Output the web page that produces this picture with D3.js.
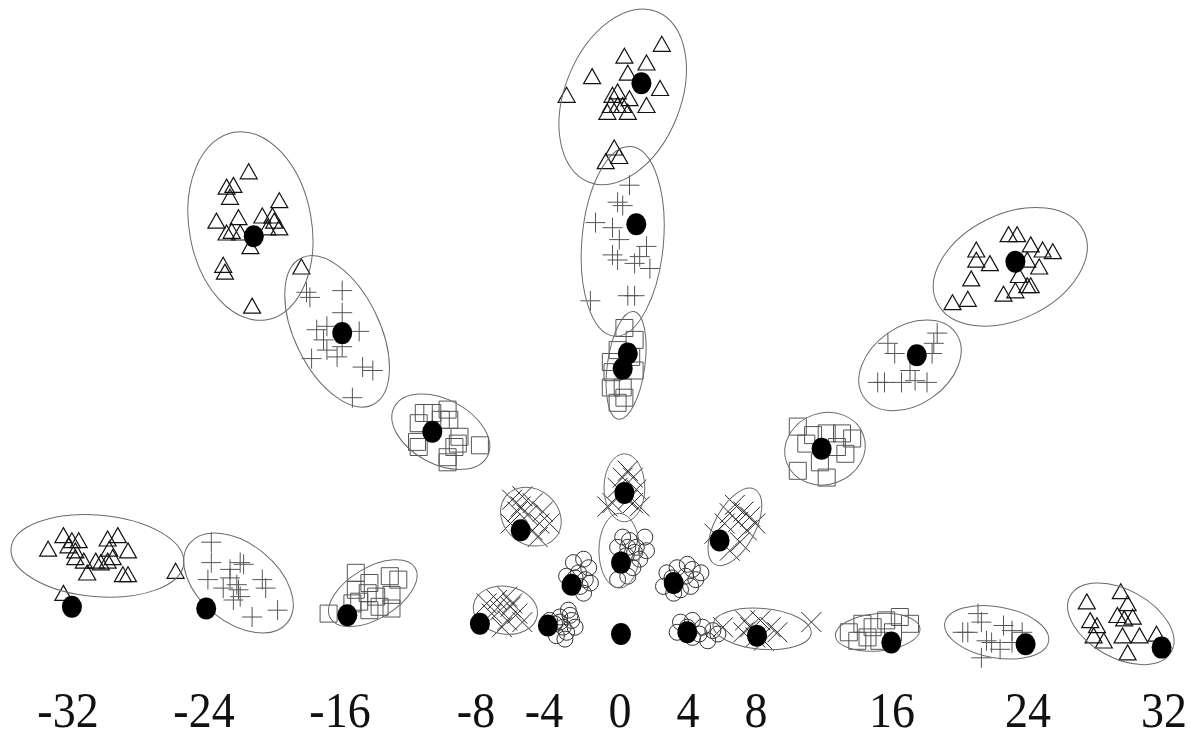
<!DOCTYPE html>
<meta charset="utf-8">
<style>
body { margin: 0; background: #fff; }
.ell { fill: none; stroke: #6a6a6a; stroke-width: 1; }
.mk { fill: none; }
.tick { font-family: "Liberation Serif", "Times New Roman", serif; font-size: 46px; fill: #111; }
</style>
<body>
<script src="https://d3js.org/d3.v7.min.js"></script>
<script>

// tick labels along the bottom
var tickValues = [-32, -24, -16, -8, -4, 0, 4, 8, 16, 24, 32];

// sample points, grouped by marker
var trianglePts = [
  [-33.7,4.9],[-32.8,5.7],[-32.3,5.4],[-31.9,5.4],[-32.5,5.1],[-32.1,4.8],[-32.1,4.4],[-31.6,4.2],[-31.4,3.5],[-30.9,4.2],[-30.6,4.1],[-30.2,5.5],[-29.6,5.7],[-30.1,4.9],[-29.9,4.4],[-29.0,4.8],[-29.3,3.4],[-29.0,3.4],[-30.2,4.2],[-26.2,3.6],[-32.8,2.3],
  [29.4,2.4],[27.4,1.8],[29.8,1.7],[27.6,0.7],[28.0,0.4],[29.2,1.0],[29.6,0.8],[30.1,0.9],[27.8,-0.2],[28.4,-0.5],[29.5,-0.2],[30.5,-0.2],[31.5,-0.1],[29.8,-1.2],
  [-21.9,27.1],[-23.2,26.2],[-22.8,26.3],[-23.0,25.6],[-20.1,25.4],[-23.8,24.2],[-22.5,24.4],[-21.1,24.5],[-20.5,24.5],[-20.1,23.8],[-22.9,23.6],[-23.2,23.5],[-22.4,23.5],[-20.8,23.8],[-21.8,22.7],[-23.4,21.6],[-23.3,21.2],[-18.8,21.5],[-21.7,19.2],[-20.4,24.2],
  [2.4,34.6],[0.2,33.9],[1.5,33.5],[-1.7,32.7],[0.4,32.9],[2.3,32.0],[-0.5,31.6],[-0.2,31.8],[0.5,31.4],[-0.6,31.0],[-0.2,31.0],[0.1,31.0],[-0.8,30.6],[0.4,30.6],[1.5,31.0],[-3.2,31.6],[-0.4,28.5],[-0.9,27.7],[-0.1,28.0],
  [22.8,23.4],[23.3,23.4],[20.9,22.5],[24.1,22.8],[24.8,22.5],[25.4,22.4],[20.9,21.9],[21.7,21.7],[23.9,21.9],[24.6,21.5],[20.6,20.8],[23.4,21.0],[23.9,20.4],[24.1,20.4],[22.5,19.9],[23.2,20.1],[20.4,19.6],[19.5,19.4]
];

var plusPts = [
  [-24.1,5.4],[-24.1,4.2],[-22.4,4.2],[-22.2,4.1],[-24.3,3.2],[-23.0,3.3],[-22.6,2.9],[-22.5,2.6],[-22.8,2.0],[-22.4,2.2],[-23.4,2.7],[-21.1,3.2],[-20.9,2.7],[-20.2,1.4],[-21.7,1.0],[-23.0,3.8],
  [21.0,1.2],[21.2,0.7],[20.1,0.1],[20.4,0.1],[22.5,0.5],[23.0,0.2],[21.5,-0.4],[21.8,-0.5],[22.3,-0.9],[21.2,-1.4],[23.6,0.1],[23.0,-0.5],
  [-18.5,20.1],[-18.3,19.8],[-16.4,20.2],[-16.4,18.9],[-17.9,17.9],[-17.3,18.1],[-17.5,17.3],[-17.3,16.7],[-16.7,16.3],[-16.4,16.9],[-15.4,17.8],[-18.2,16.2],[-15.2,15.7],[-14.6,15.5],[-15.8,13.9],
  [0.5,26.4],[-0.2,25.4],[0.1,25.2],[-1.5,24.2],[-0.5,23.9],[-0.1,23.2],[1.5,22.8],[-0.5,22.3],[-0.2,22.0],[1.1,22.2],[0.8,21.8],[1.7,21.5],[0.4,19.9],[0.8,19.9],[-1.8,19.6],
  [15.7,17.1],[16.1,16.5],[18.6,17.7],[18.4,17.1],[18.3,16.5],[15.1,14.8],[15.5,14.8],[16.5,14.8],[17.3,14.9],[18.0,14.8],[17.0,15.5]
];

var squarePts = [
  [-15.6,3.6],[-14.8,3.0],[-13.6,3.4],[-13.1,3.2],[-15.6,2.6],[-14.9,2.4],[-14.4,2.2],[-13.5,2.3],[-13.5,1.5],[-15.8,1.8],[-15.4,1.9],[-17.2,1.2],[-14.2,1.6],[-14.8,1.4],
  [13.4,0.1],[14.2,0.6],[14.8,0.4],[15.6,0.8],[16.4,1.0],[17.0,0.6],[14.5,-0.2],[15.2,-0.4],[16.0,0.1],[13.9,-0.4],
  [-11.6,13.0],[-11.1,13.0],[-10.2,13.2],[-10.1,12.6],[-11.9,12.4],[-12.0,11.3],[-11.9,11.0],[-10.2,10.4],[-10.2,10.1],[-9.6,11.2],[-9.5,11.6],[-9.8,11.0],[-8.3,11.1],[-10.6,12.6],
  [0.2,18.0],[0.8,17.3],[-0.2,16.7],[0.6,16.3],[-0.6,16.0],[0.8,15.5],[-0.5,15.4],[0.1,14.5],[-0.6,14.5],[0.2,13.9],[-0.2,13.6],
  [10.4,12.2],[11.3,11.7],[12.1,11.8],[13.0,11.8],[13.6,11.5],[10.9,11.2],[12.7,11.0],[13.2,10.6],[10.4,9.6],[11.7,10.1],[12.1,9.2]
];

var crossPts = [
  [-7.9,1.8],[-7.3,2.0],[-6.7,2.2],[-6.5,1.6],[-7.1,1.4],[-7.6,1.2],[-6.1,1.2],[-6.7,0.8],[-5.8,0.7],[-7.0,0.4],[-6.4,1.8],
  [6.0,0.4],[7.3,0.8],[7.6,0.4],[8.2,0.8],[8.8,0.4],[7.2,0.1],[9.2,0.1],[8.4,-0.4],[11.2,0.7],[7.9,-0.2],
  [-6.4,7.9],[-5.8,8.1],[-5.2,7.7],[-4.6,7.2],[-6.1,7.2],[-5.5,7.0],[-4.8,6.5],[-4.2,6.5],[-6.5,6.5],[-5.2,6.1],[-5.9,7.5],[-4.9,5.7],
  [0.4,9.6],[0.1,9.2],[0.7,9.2],[-0.2,8.6],[0.9,8.5],[-0.5,7.7],[0.7,7.7],[0.4,7.9],[1.1,7.5],[-0.8,7.5],
  [6.7,7.6],[7.2,7.2],[6.4,7.1],[7.6,6.9],[6.1,6.5],[6.9,6.6],[7.9,6.5],[7.4,6.1],[5.5,5.9],[7.0,5.4],[6.4,4.9]
];

var circlePts = [
  [-4.2,0.8],[-3.6,1.0],[-3.1,1.4],[-2.9,0.8],[-3.4,0.4],[-3.8,-0.1],[-3.2,0.1],[-3.6,0.7],[-3.0,1.1],[-2.7,0.4],[-3.9,0.6],[-3.3,-0.3],
  [3.5,0.7],[4.2,0.8],[4.8,0.4],[5.4,0.2],[3.3,0.1],[4.2,-0.2],[5.1,-0.4],[3.9,0.4],[4.6,0.0],[5.7,0.0],
  [-2.8,4.2],[-2.2,4.4],[-1.9,3.9],[-2.5,3.6],[-3.2,3.4],[-2.1,3.2],[-3.0,2.8],[-2.4,2.8],[-2.7,3.3],[-1.8,3.0],[-2.2,2.4],
  [0.1,5.7],[0.5,5.5],[0.9,5.1],[1.4,5.7],[0.4,5.1],[-0.2,5.1],[1.1,4.4],[0.7,3.9],[0.4,3.4],[-0.2,3.2],[1.5,4.9],[0.3,4.6],[0.8,4.8],
  [2.7,3.6],[3.3,3.9],[3.9,4.1],[4.2,3.8],[4.4,3.2],[2.5,2.8],[3.5,2.6],[4.1,2.8],[3.0,3.3],[3.8,3.4],[4.7,3.6],[3.1,2.4]
];

// black dots: estimated means
var means = [
  [-32.3,1.6],[-24.4,1.5],[-16.1,1.1],[-8.3,0.6],[-4.3,0.5],[0,0],[3.9,0.1],[8.0,-0.1],[15.9,-0.5],[23.8,-0.6],[31.8,-0.8],
  [-2.9,2.9],[-5.9,6.1],[-11.1,11.9],[-16.4,17.7],[-21.6,23.4],
  [0,4.2],[0.2,8.3],[0.4,16.5],[0.1,15.6],[0.9,24.1],[1.2,32.4],
  [3.1,3.0],[5.8,5.5],[11.8,10.9],[17.4,16.4],[23.2,21.9]
];

// covariance ellipses: centre x, centre y, semi-axis x, semi-axis y, angle (deg)
var ellipses = [
  [-30.8,4.6,5.1,2.4,5],
  [-22.5,3.0,3.7,2.3,39],
  [-14.6,2.4,2.9,1.5,-31],
  [-6.8,1.4,1.9,1.4,10],
  [8.3,0.3,2.9,1.2,5],
  [15.1,0.1,2.5,1.1,-5],
  [22.1,0.1,3.1,1.5,10],
  [29.4,0.6,3.4,2.0,29],
  [-5.3,6.9,1.9,1.6,40],
  [-10.6,11.9,3.1,1.9,28],
  [-16.7,17.8,2.5,4.8,-26],
  [-21.8,24.0,3.6,5.6,-10],
  [-0.1,4.9,1.2,2.2,0],
  [0.2,8.6,1.2,2.0,0],
  [0.3,15.8,1.1,3.2,8],
  [0.1,23.1,2.4,5.6,5],
  [0.1,31.6,3.4,5.4,22],
  [6.7,6.3,2.5,1.2,-62],
  [12.0,10.9,2.4,2.1,-20],
  [17.0,15.8,3.3,2.3,-35],
  [22.9,21.6,4.8,3.1,-26]
];

var W = 1191, H = 739;

var x = d3.scaleLinear().domain([-32, 32]).range([77, 1165]);
var y = d3.scaleLinear().domain([0, 32]).range([634, 90]);

var svg = d3.select("body").append("svg")
    .attr("width", W)
    .attr("height", H);

svg.append("rect").attr("width", W).attr("height", H).attr("fill", "#fff");

var ux = function(d) { return x(d) - x(0); },
    uy = function(d) { return y(0) - y(d); };

// marker shapes
var tri = "M0,-9.5L8.5,5.5L-8.5,5.5Z",
    sq = "M-8.5,-8.5H8.5V8.5H-8.5Z",
    plus = "M-10,0H10M0,-10V10",
    cross = "M-10,-10L10,10M-10,10L10,-10";

function marks(data, path, color, sw) {
  svg.append("g").selectAll("path")
      .data(data)
    .enter().append("path")
      .attr("class", "mk")
      .attr("d", path)
      .attr("stroke", color)
      .attr("stroke-width", sw)
      .attr("transform", function(d) { return "translate(" + x(d[0]) + "," + y(d[1]) + ")"; });
}

marks(trianglePts, tri, "#111", 1.2);
marks(plusPts, plus, "#555", 1);
marks(squarePts, sq, "#555", 1);
marks(crossPts, cross, "#2a2a2a", 1);

svg.append("g").selectAll("circle")
    .data(circlePts)
  .enter().append("circle")
    .attr("class", "mk")
    .attr("stroke", "#333")
    .attr("r", 8)
    .attr("cx", function(d) { return x(d[0]); })
    .attr("cy", function(d) { return y(d[1]); });

// ellipses
svg.append("g").selectAll("ellipse")
    .data(ellipses)
  .enter().append("ellipse")
    .attr("class", "ell")
    .attr("rx", function(d) { return ux(d[2]); })
    .attr("ry", function(d) { return uy(d[3]); })
    .attr("transform", function(d) {
      return "translate(" + x(d[0]) + "," + y(d[1]) + ") rotate(" + d[4] + ")";
    });

// means
svg.append("g").selectAll("ellipse")
    .data(means)
  .enter().append("ellipse")
    .attr("fill", "#000")
    .attr("rx", 10)
    .attr("ry", 11)
    .attr("cx", function(d) { return x(d[0]); })
    .attr("cy", function(d) { return y(d[1]); });

// labels (negatives nudged so the digits sit over the value)
svg.append("g").selectAll("text")
    .data(tickValues)
  .enter().append("text")
    .attr("class", "tick")
    .attr("text-anchor", "middle")
    .attr("transform", function(d) {
      return "translate(" + (x(d) - (d < 0 ? 9 : 1)) + ",727) scale(1,1.12)";
    })
    .text(function(d) { return d; });

</script>
